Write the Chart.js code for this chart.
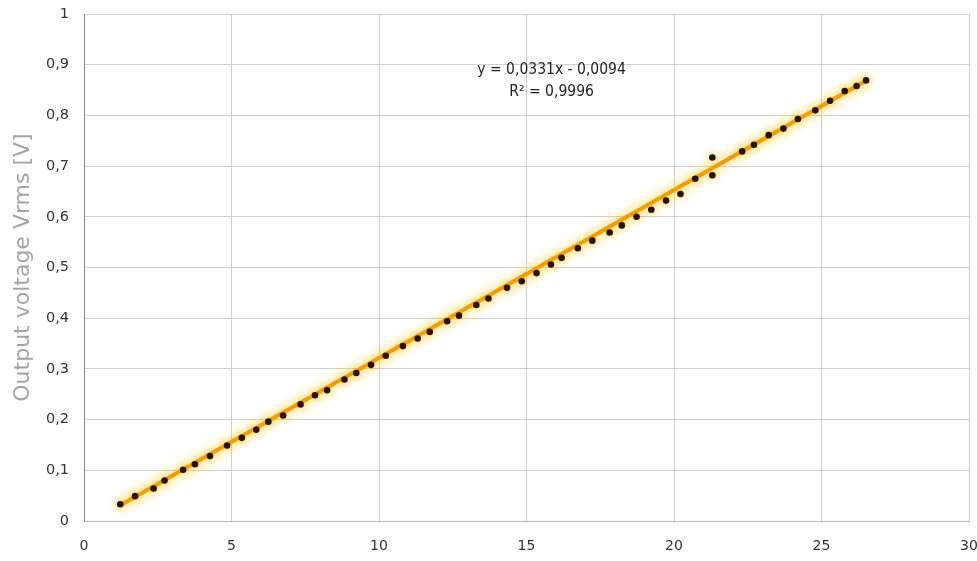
<!DOCTYPE html>
<html>
<head>
<meta charset="utf-8">
<script src="https://cdn.jsdelivr.net/npm/chart.js@4.4.0/dist/chart.umd.min.js"></script>
<style>
  html, body { margin: 0; padding: 0; background: #fff; }
  #wrap { width: 977px; height: 561px; }
</style>
</head>
<body>
<div id="wrap"><canvas id="chart" width="977" height="561"></canvas></div>
<script>
// measured points (x, Vrms)
const xValues = [1.23, 1.73, 2.36, 2.73, 3.36, 3.76, 4.27, 4.85, 5.35, 5.84,
  6.25, 6.75, 7.34, 7.83, 8.24, 8.83, 9.23, 9.73, 10.23, 10.81,
  11.31, 11.72, 12.31, 12.71, 13.30, 13.71, 14.34, 14.84, 15.34, 15.83,
  16.19, 16.74, 17.23, 17.82, 18.23, 18.73, 19.23, 19.73, 20.22, 20.72,
  21.30, 21.30, 22.31, 22.71, 23.21, 23.71, 24.20, 24.79, 25.29, 25.79,
  26.19, 26.51];
const yValues = [0.033, 0.049, 0.064, 0.080, 0.101, 0.112, 0.128, 0.149, 0.164, 0.180,
  0.196, 0.208, 0.230, 0.248, 0.258, 0.279, 0.292, 0.308, 0.326, 0.345,
  0.360, 0.373, 0.394, 0.405, 0.426, 0.439, 0.460, 0.473, 0.489, 0.506,
  0.519, 0.538, 0.553, 0.569, 0.583, 0.600, 0.614, 0.632, 0.645, 0.675,
  0.717, 0.682, 0.729, 0.742, 0.761, 0.774, 0.793, 0.810, 0.829, 0.848,
  0.858, 0.869];

// linear trendline ends, as drawn
const trendX = [1.2, 26.55];
const trendY = [0.030, 0.870];

const trendLabel = ["y = 0,0331x - 0,0094", "R\u00b2 = 0,9996"];

const xTicks = [0, 5, 10, 15, 20, 25, 30];
const yTicks = [0, 0.1, 0.2, 0.3, 0.4, 0.5, 0.6, 0.7, 0.8, 0.9, 1];

const points = xValues.map((x, i) => ({ x: x, y: yValues[i] }));
const trend = trendX.map((x, i) => ({ x: x, y: trendY[i] }));

const glow = {
  id: "glow",
  beforeDatasetDraw(chart, args) {
    const ctx = chart.ctx;
    ctx.save();
    ctx.shadowColor = "rgba(255, 195, 0, 1)";
    ctx.shadowBlur = args.index === 1 ? 12 : 8;
  },
  afterDatasetDraw(chart) {
    chart.ctx.restore();
  }
};

const equation = {
  id: "equation",
  afterDatasetsDraw(chart) {
    const ctx = chart.ctx;
    const xs = chart.scales.x, ys = chart.scales.y;
    ctx.save();
    ctx.font = "15.5px 'DejaVu Sans Condensed', 'DejaVu Sans', sans-serif";
    ctx.fillStyle = "#222";
    ctx.textAlign = "center";
    ctx.textBaseline = "middle";
    ctx.fillText(trendLabel[0], xs.getPixelForValue(15.85), ys.getPixelForValue(0.889));
    ctx.fillText(trendLabel[1], xs.getPixelForValue(15.85), ys.getPixelForValue(0.846));
    ctx.restore();
  }
};

const comma = (v) => String(Math.round(v * 10) / 10).replace(".", ",");

new Chart(document.getElementById("chart"), {
  type: "scatter",
  data: {
    datasets: [
      {
        label: "Vrms",
        data: points,
        pointRadius: 3.3,
        pointBackgroundColor: "#2a1200",
        pointBorderWidth: 0,
        showLine: false,
        order: 1
      },
      {
        label: "Linear",
        data: trend,
        showLine: true,
        borderColor: "#f29a00",
        borderWidth: 4,
        pointRadius: 0,
        order: 2
      }
    ]
  },
  options: {
    responsive: false,
    animation: false,
    layout: { padding: { top: 14, right: 8, left: 10, bottom: 0 } },
    plugins: {
      legend: { display: false },
      tooltip: { enabled: false }
    },
    scales: {
      x: {
        type: "linear",
        min: 0,
        max: 30,
        afterBuildTicks: (s) => { s.ticks = xTicks.map(v => ({ value: v })); },
        afterFit: (s) => { s.height = 40; s.paddingLeft = 0; s.paddingRight = 0; },
        grid: { color: "#cfcfcf", lineWidth: 1, drawTicks: false },
        border: { color: "#b5b5b5", width: 1 },
        ticks: {
          color: "#333",
          padding: 17,
          font: { family: "'DejaVu Sans'", size: 14 },
          maxRotation: 0
        }
      },
      y: {
        type: "linear",
        min: 0,
        max: 1,
        afterBuildTicks: (s) => { s.ticks = yTicks.map(v => ({ value: v })); },
        afterFit: (s) => { s.width = 74; s.paddingTop = 0; s.paddingBottom = 0; },
        grid: { color: "#cfcfcf", lineWidth: 1, drawTicks: false },
        border: { color: "#8a8a8a", width: 1 },
        title: {
          display: true,
          text: "Output voltage Vrms [V]",
          color: "#a4a4a4",
          font: { family: "'DejaVu Sans'", size: 22 },
          padding: { top: 0, bottom: 4 }
        },
        ticks: {
          color: "#333",
          padding: 15,
          font: { family: "'DejaVu Sans'", size: 14.5 },
          callback: (v) => comma(v)
        }
      }
    }
  },
  plugins: [glow, equation]
});
</script>
</body>
</html>
